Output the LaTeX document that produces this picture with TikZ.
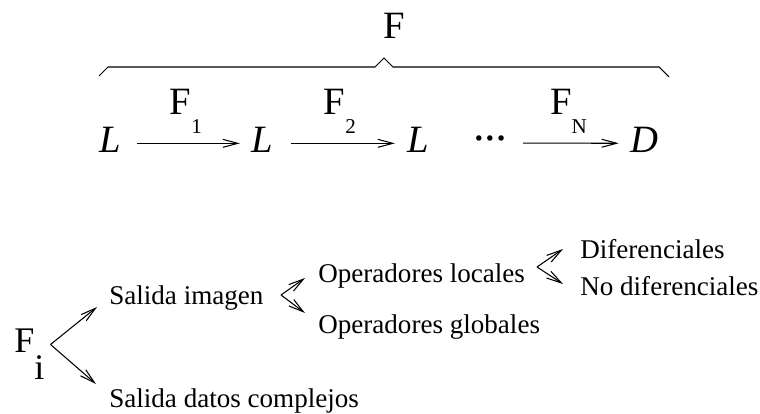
\documentclass[tikz,border=0pt]{standalone}
\usepackage{fontspec}
\setmainfont{Liberation Serif}
\usetikzlibrary{positioning,arrows.meta}

\begin{document}
\begin{tikzpicture}[
    big/.style={font=\fontsize{22}{26}\selectfont, inner sep=0, text depth=0.12cm, anchor=base},
    sub/.style={font=\fontsize{22}{26}\selectfont, inner sep=0, anchor=south},
    txt/.style={font=\fontsize{15.4}{18}\selectfont, inner sep=0, anchor=base west},
    arr/.style={-{Straight Barb[length=0.3cm,width=0.16cm]}, line width=0.6pt}
]
\useasboundingbox (0,0) rectangle (15.2,8.28);

% Chain of operators
\node[big] (l1) at (2.20,5.22) {\itshape L};
\node[big] (l2) at (5.24,5.22) {\itshape L};
\node[big] (l3) at (8.36,5.22) {\itshape L};
\node[inner sep=0, font=\fontsize{19}{19}\bfseries] (dots) at (9.80,5.42) {···};
\node[big] (d) at (12.88,5.22) {\itshape D};

\draw[arr, shorten <=0.32cm, shorten >=0.22cm] (l1) -- node[sub, above=0.18cm] {F\raisebox{-0.38cm}{\fontsize{12}{12}\selectfont 1}} (l2);
\draw[arr, shorten <=0.36cm, shorten >=0.24cm] (l2) -- node[sub, above=0.18cm] {F\raisebox{-0.38cm}{\fontsize{12}{12}\selectfont 2}} (l3);
\draw[arr, shorten <=0.32cm, shorten >=0.22cm] (dots) -- node[sub, above=0.18cm] {F\raisebox{-0.38cm}{\fontsize{12}{12}\selectfont N}} (d);

% Brace over the whole chain
\node[big] (ftot) at (7.88,7.50) {F};
\draw[line width=0.6pt] (1.98,6.76) -- (2.16,6.94) -- (7.50,6.94) -- (7.68,7.12)
    -- (7.86,6.94) -- (13.18,6.94) -- (13.38,6.74);

% Classification of F_i
\node[anchor=base west, inner sep=0, font=\fontsize{20.5}{24}\selectfont] (fi) at (0.28,1.22) {F\raisebox{-0.54cm}{i}};
\node[txt] (simg) at (2.18,2.18) {Salida imagen};
\node[txt] (sdat) at (2.18,0.12) {Salida datos complejos};
\node[txt] (oloc) at (6.36,2.62) {Operadores locales};
\node[txt] (oglo) at (6.36,1.60) {Operadores globales};
\node[txt] (dif) at (11.60,3.10) {Diferenciales};
\node[txt] (ndif) at (11.60,2.36) {No diferenciales};

\coordinate (fork0) at (1.01,1.39);
\coordinate (fork1) at (5.62,2.38);
\coordinate (fork2) at (10.74,2.94);

\draw[arr] (fork0) -- ([shift={(-0.24,-0.04)}]simg.base west);
\draw[arr] (fork0) -- ([shift={(-0.26,0.48)}]sdat.base west);
\draw[arr] (fork1) -- ([shift={(-0.26,0.10)}]oloc.base west);
\draw[arr] (fork1) -- ([shift={(-0.26,0.42)}]oglo.base west);
\draw[arr] (fork2) -- ([shift={(-0.34,0.20)}]dif.base west);
\draw[arr] (fork2) -- ([shift={(-0.34,0.24)}]ndif.base west);

\end{tikzpicture}
\end{document}
